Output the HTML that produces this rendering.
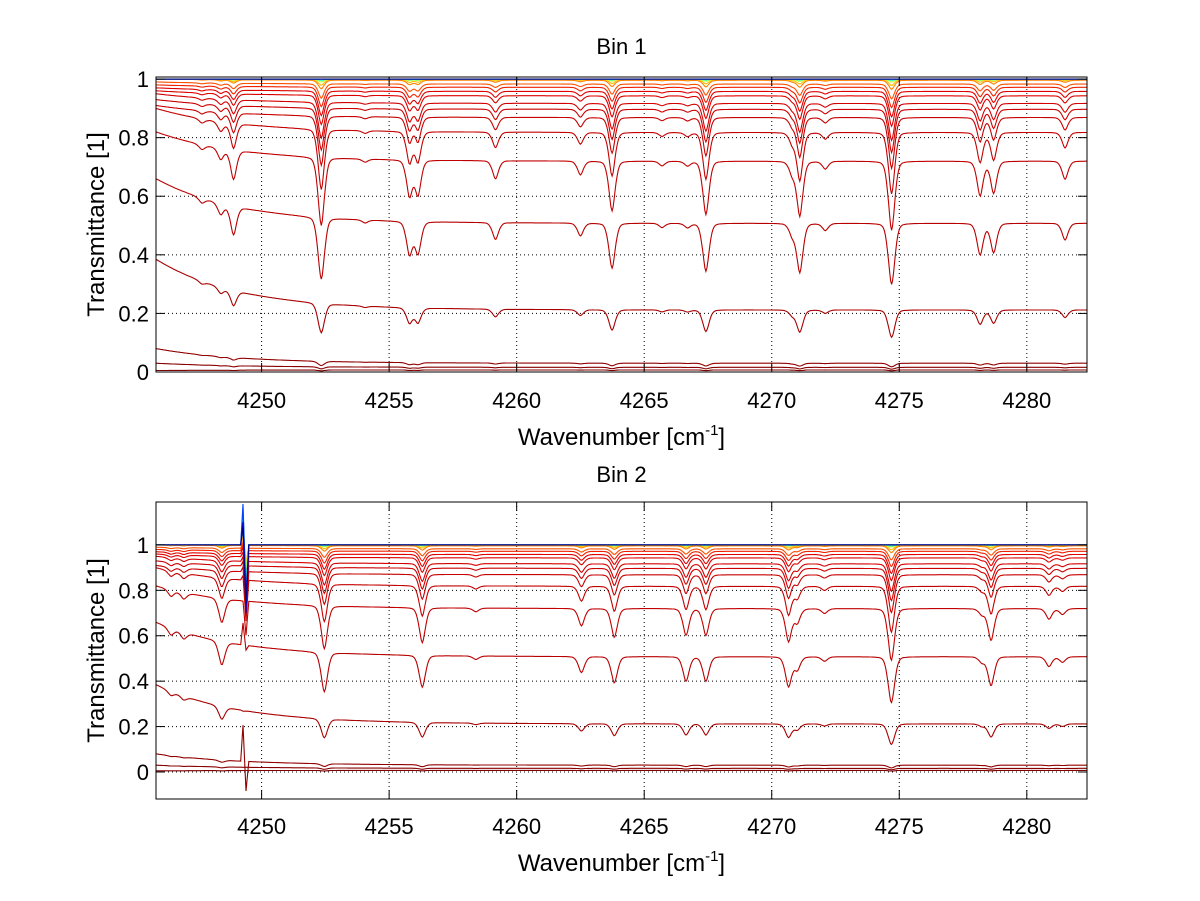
<!DOCTYPE html>
<html><head><meta charset="utf-8"><title>Bin transmittance spectra</title>
<style>
html,body{margin:0;padding:0;background:#fff;}
svg{display:block;font-family:"Liberation Sans",Arial,sans-serif;}
</style></head>
<body>
<svg id="chart" width="1200" height="901" viewBox="0 0 1200 901" xmlns="http://www.w3.org/2000/svg">
<rect x="0" y="0" width="1200" height="901" fill="#ffffff"/>
</svg>
<script>
// ---- data ----
const xTicks = [4250, 4255, 4260, 4265, 4270, 4275, 4280];
const yTicks = [0, 0.2, 0.4, 0.6, 0.8, 1];
const yTickLabels = ["0", "0.2", "0.4", "0.6", "0.8", "1"];
const xMin = 4245.86, xMax = 4282.36;
// absorption lines, bin 1 (centre, optical depth for mid curve)
const lineCenters1 = [4247.66,4248.4,4248.9,4252.34,4254.06,4255.8,4256.13,4259.17,4262.5,4263.74,4265.7,4266.7,4267.42,4270.8,4271.1,4272.1,4274.7,4278.17,4278.7,4281.5];
const lineTaus1    = [0.03,0.07,0.19,0.51,0.02,0.25,0.24,0.12,0.09,0.36,0.03,0.03,0.39,0.08,0.40,0.05,0.53,0.24,0.22,0.12];
// absorption lines, bin 2
const lineCenters2 = [4246.45,4246.95,4248.44,4252.46,4256.3,4258.4,4262.54,4263.83,4266.64,4267.42,4270.66,4271.0,4272.07,4274.69,4278.24,4278.6,4280.87,4281.4];
const lineTaus2    = [0.05,0.05,0.2,0.4,0.32,0.03,0.15,0.26,0.24,0.24,0.3,0.12,0.04,0.51,0.05,0.29,0.09,0.05];
// curves: level at right end, level at left end, line-strength factor
const levelsRight = [1.0,1.0,1.0,1.0,1.0,1.0,0.999,0.996,0.983,0.972,0.958,0.943,0.917,0.897,0.869,0.818,0.72,0.508,0.212,0.03,0.016,0.007];
const levelsLeft  = [1.0,1.0,1.0,1.0,1.0,1.0,1.0,1.0,0.99,0.98,0.97,0.96,0.95,0.93,0.91,0.9,0.82,0.66,0.385,0.08,0.03,0.005];
const strengths   = [0.0,0.0,0.0,0.0,0.01,0.02,0.04,0.06,0.1,0.14,0.18,0.22,0.28,0.34,0.42,0.56,0.75,1.0,1.1,1.0,1.0,1.0];
const curveColors = ["#000080","#0000c8","#0040ff","#00a0ff","#40ffc0","#c0ff40","#ffc000","#ff8000","#ff5000","#f02000","#e00000","#dd0000","#d40000","#cc0000","#c80000","#c40000","#c00000","#b80000","#a80000","#900000","#880000","#800000"];
// bin 2 artifact spike near 4249.35 (up, down) per curve
const artifactX = 4249.33;
const artUp   = [0.08,0.1,0.18,0.16,0.12,0.08,0.06,0.04,0.03,0.03,0.03,0.02,0.02,0.02,0.02,0.02,0.0,0.1,0.0,0.16,0.0,0.0];
const artDown = [-0.25,-0.3,-0.22,-0.2,-0.15,-0.1,-0.08,-0.12,-0.12,-0.14,-0.16,-0.18,-0.2,-0.22,-0.2,-0.18,-0.15,-0.02,-0.0,-0.13,0.0,0.0];

const NS = "http://www.w3.org/2000/svg";
const svg = document.getElementById('chart');
function el(tag, attrs, parent){const e=document.createElementNS(NS,tag);for(const k in attrs)e.setAttribute(k,attrs[k]);(parent||svg).appendChild(e);return e;}

const panels = [
  {title:"Bin 1", left:156, right:1087, top:77, bottom:372, yLo:0, yHi:1.007, centers:lineCenters1, taus:lineTaus1, art:false, xlabY:445, titleY:54, tickY:408},
  {title:"Bin 2", left:156, right:1087, top:502, bottom:799, yLo:-0.119, yHi:1.189, centers:lineCenters2, taus:lineTaus2, art:true, xlabY:871, titleY:482, tickY:834}
];

function profile(x, centers, taus){
  let s=0;
  for(let i=0;i<centers.length;i++){
    const dl=(x-centers[i])/0.1, dg=(x-centers[i])/0.13;
    s+=taus[i]*(0.4/(1+dl*dl)+0.6*Math.exp(-0.5*dg*dg));
  }
  return s;
}

panels.forEach((p,pi)=>{
  const g = el('g',{});
  
  
  const sx = v => p.left + (v - xMin)/(xMax - xMin)*(p.right - p.left);
  const sy = v => p.bottom - (v - p.yLo)/(p.yHi - p.yLo)*(p.bottom - p.top);
  const cid='clip'+pi;
  const cp=el('clipPath',{id:cid},g);
  el('rect',{x:p.left,y:p.top,width:p.right-p.left,height:p.bottom-p.top},cp);
  const grid=el('g',{},g);
  
  
  xTicks.forEach(t=>{el('line',{x1:sx(t),x2:sx(t),y1:p.top,y2:p.bottom,stroke:'#000','stroke-width':1,'stroke-dasharray':'1,3'},grid);});
  yTicks.forEach(t=>{el('line',{x1:p.left,x2:p.right,y1:sy(t),y2:sy(t),stroke:'#000','stroke-width':1,'stroke-dasharray':'1,3'},grid);});
  const cg=el('g',{'clip-path':'url(#'+cid+')'},g);
  
  
  const order=[];
  for(let j=levelsRight.length-1;j>=0;j--)order.push(j);
  order.forEach(j=>{
    let d='';
    const step=0.04;
    let artDone=false;
    for(let x=xMin;x<=xMax+1e-9;x+=step){
      if(p.art && x>artifactX-0.14 && x<artifactX+0.14) continue;
      const base = levelsRight[j] + (levelsLeft[j]-levelsRight[j])*Math.exp(-(x-xMin)/3.2);
      let v = base*Math.exp(-strengths[j]*profile(x,p.centers,p.taus));
      if(p.art && !artDone && x>=artifactX){
        d+=(d?'L':'M')+sx(artifactX-0.06).toFixed(1)+','+sy(base+artUp[j]).toFixed(1);
        d+='L'+sx(artifactX+0.06).toFixed(1)+','+sy(base+artDown[j]).toFixed(1);
        artDone=true;
      }
      d+=(d?'L':'M')+sx(x).toFixed(1)+','+sy(v).toFixed(1);
    }
    const path=el('path',{d:d,fill:'none',stroke:curveColors[j],'stroke-width':1.1},cg);
    
    
  });
  const box=el('rect',{x:p.left,y:p.top,width:p.right-p.left,height:p.bottom-p.top,fill:'none',stroke:'#000','stroke-width':1},g);
  
  
  xTicks.forEach(t=>{
    el('line',{x1:sx(t),x2:sx(t),y1:p.bottom,y2:p.bottom-9,stroke:'#000'},g);
    el('line',{x1:sx(t),x2:sx(t),y1:p.top,y2:p.top+9,stroke:'#000'},g);
    const tx=el('text',{x:sx(t),y:p.tickY,'font-size':22,'text-anchor':'middle'},g);
    tx.textContent=String(t);
    
    
  });
  yTicks.forEach((t,i)=>{
    el('line',{x1:p.left,x2:p.left+9,y1:sy(t),y2:sy(t),stroke:'#000'},g);
    el('line',{x1:p.right,x2:p.right-9,y1:sy(t),y2:sy(t),stroke:'#000'},g);
    const ty=el('text',{x:p.left-7,y:sy(t)+8,'font-size':22,'text-anchor':'end'},g);
    ty.textContent=yTickLabels[i];
    
    
  });
  const ti=el('text',{x:(p.left+p.right)/2,y:p.titleY,'font-size':22,'text-anchor':'middle'},g);
  ti.textContent=p.title;
  
  
  const xl=el('text',{x:(p.left+p.right)/2,y:p.xlabY,'font-size':24,'text-anchor':'middle'},g);
  
  
  const t1=el('tspan',{},xl); t1.textContent='Wavenumber [cm';
  const t2=el('tspan',{'font-size':15,dy:-10},xl); t2.textContent='-1';
  const t3=el('tspan',{dy:10},xl); t3.textContent=']';
  const cy=(p.top+p.bottom)/2;
  const yl=el('text',{x:104,y:cy,'font-size':24,'text-anchor':'middle',transform:'rotate(-90 104 '+cy+')'},g);
  yl.textContent='Transmittance [1]';
  
  
});
</script>
</body></html>
